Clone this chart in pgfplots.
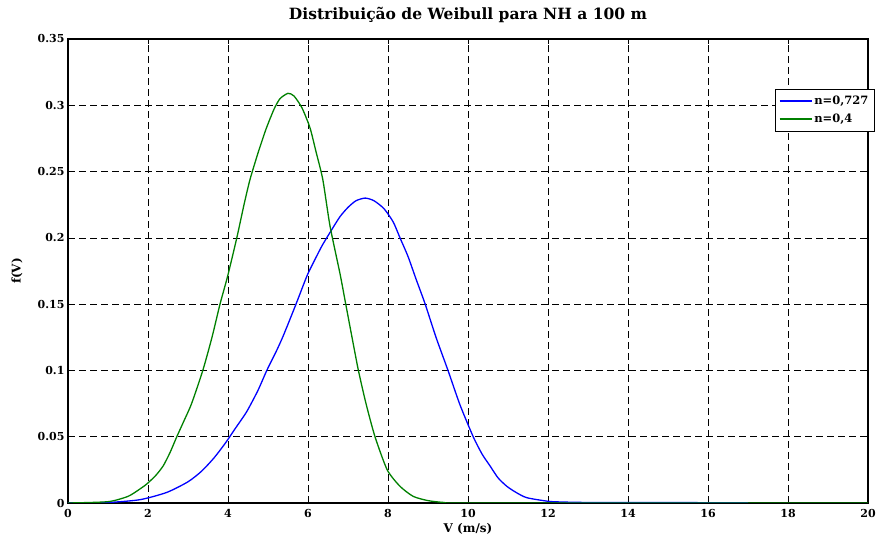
\documentclass[border=0pt]{standalone}
\usepackage{pgfplots}
\pgfplotsset{compat=1.18}
\usepackage{fontspec}
\setmainfont{DejaVu Serif}
\pgfplotsset{
  my legend line/.style={legend image code/.code={\draw[##1] (0pt,0pt) -- (32pt,0pt);}},
}
\pgfplotstableread{
x y
0 0
1 0.0004
1.8 0.0025
2.47 0.008
3.0 0.016
3.34 0.024
3.65 0.034
3.93 0.045
4.2 0.057
4.47 0.069
4.75 0.085
4.97 0.1
5.2 0.114
5.38 0.126
5.7 0.15
5.97 0.171
6.13 0.181
6.35 0.194
6.59 0.206
6.8 0.216
7.0 0.223
7.2 0.228
7.43 0.230
7.65 0.228
7.9 0.222
8.13 0.212
8.3 0.200
8.5 0.186
8.7 0.169
8.93 0.150
9.2 0.125
9.5 0.100
9.8 0.074
10.13 0.050
10.35 0.037
10.55 0.028
10.75 0.019
10.97 0.0126
11.2 0.008
11.47 0.004
12.0 0.0013
12.3 0.0008
13 0.0004
15 0.0003
17 0.0002
}\bluedata
\pgfplotstableread{
x y
0 0
1 0.001
1.5 0.005
1.8 0.0106
1.98 0.0146
2.2 0.021
2.38 0.028
2.55 0.038
2.72 0.05
2.9 0.062
3.09 0.075
3.37 0.100
3.6 0.125
3.8 0.150
3.99 0.171
4.22 0.200
4.4 0.225
4.55 0.244
4.75 0.264
4.95 0.282
5.15 0.297
5.3 0.305
5.5 0.309
5.65 0.307
5.85 0.298
6.05 0.283
6.2 0.265
6.37 0.244
6.55 0.209
6.8 0.173
6.925 0.153
7.1 0.125
7.26 0.100
7.45 0.075
7.675 0.050
7.98 0.025
8.3 0.0126
8.63 0.005
9.0 0.0018
9.4 0.0004
10 0
20 0
}\greendata
\begin{document}
\begin{tikzpicture}
\useasboundingbox (-68pt,-35pt) rectangle (808pt,503pt);
\begin{axis}[
  scale only axis,
  width=800pt, height=464pt,
  xmin=0, xmax=20, ymin=0, ymax=0.35,
  xtick={0,2,...,20},
  ytick={0,0.05,0.1,0.15,0.2,0.25,0.3,0.35},
  yticklabels={0,0.05,0.1,0.15,0.2,0.25,0.3,0.35},
  xticklabels={0,2,4,6,8,10,12,14,16,18,20},
  tick align=inside,
  major tick length=5pt,
  tick style={black, line width=0.6pt},
  axis line style={black, line width=1.2pt},
  grid=major,
  major grid style={black, line width=0.6pt, dash pattern=on 7pt off 4pt},
  ticklabel style={font=\fontsize{11}{13}\selectfont\bfseries},
  xticklabel style={anchor=base, yshift=-15pt},
  title={Distribuição de Weibull para NH a 100 m},
  title style={font=\fontsize{15.5}{17}\selectfont\bfseries, at={(axis description cs:0.5,1)}, anchor=base, yshift=13pt},
  xlabel={V (m/s)},
  xlabel style={font=\fontsize{12}{14}\selectfont\bfseries, at={(axis description cs:0.5,0)}, anchor=base, yshift=-30pt},
  ylabel={f(V)},
  ylabel style={font=\fontsize{12}{14}\selectfont\bfseries, at={(axis description cs:-0.06375,0.5)}, anchor=center},
  legend style={at={(rel axis cs:1,1)}, anchor=north east, xshift=6.5pt, yshift=-50pt,
    draw=black, font=\fontsize{11.5}{13}\selectfont\bfseries,
    inner xsep=4pt, inner ysep=5pt, row sep=4pt, fill=white},
  legend cell align=left,
  my legend line,
]
\addplot[blue, line width=1.3pt, smooth, tension=0.4, forget plot] table[x=x,y=y] {\bluedata};
\addplot[green!50!black, line width=1.3pt, smooth, tension=0.4, forget plot] table[x=x,y=y] {\greendata};
\addlegendimage{draw=blue, line width=1.5pt}
\addlegendentry{n=0,727}
\addlegendimage{draw=green!50!black, line width=1.5pt}
\addlegendentry{n=0,4}
\end{axis}
\end{tikzpicture}
\end{document}
